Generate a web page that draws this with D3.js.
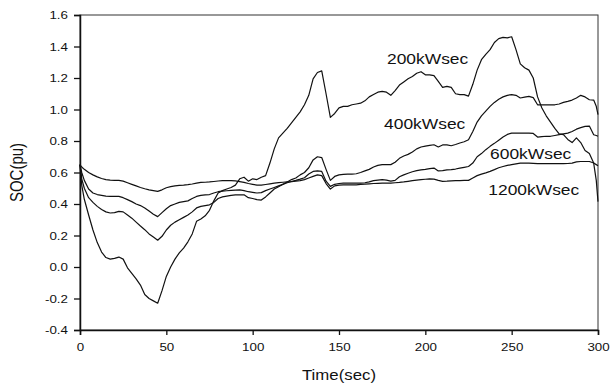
<!DOCTYPE html>
<html>
<head>
<meta charset="utf-8">
<script src="https://cdn.jsdelivr.net/npm/d3@7"></script>
<style>
  html, body { margin: 0; padding: 0; background: #fff; }
  svg { display: block; }
  text { font-family: Arial, "Liberation Sans", Helvetica, sans-serif; fill: #111; }
</style>
</head>
<body>
<svg id="chart" width="611" height="385"></svg>
<script>
// Sampling instants (s)
const time = [0, 1, 2.5, 5, 7.5, 10, 12.5, 15, 17.5, 20, 22.5, 25, 27.5, 30, 32.5, 35, 37.5, 40, 42.5, 45,
  47.5, 50, 52.5, 55, 57.5, 60, 62.5, 65, 67.5, 70, 72.5, 75, 77.5, 80, 82.5, 85, 87.5, 90, 92.5, 95,
  97.5, 100, 102.5, 105, 107.5, 110, 112.5, 115, 117.5, 120, 122.5, 125, 127.5, 130, 132.5, 135, 137.5, 140, 142.5, 145,
  147.5, 150, 152.5, 155, 157.5, 160, 162.5, 165, 167.5, 170, 172.5, 175, 177.5, 180, 182.5, 185, 187.5, 190, 192.5, 195,
  197.5, 200, 202.5, 205, 207.5, 210, 212.5, 215, 217.5, 220, 222.5, 225, 227.5, 230, 232.5, 235, 237.5, 240, 242.5, 245,
  247.5, 250, 252.5, 255, 257.5, 260, 262.5, 265, 267.5, 270, 272.5, 275, 277.5, 280, 282.5, 285, 287.5, 290, 292.5, 295,
  297.5, 299, 300];

// State of charge (pu) for each storage capacity
const soc200 = [0.65, 0.52, 0.43, 0.33, 0.235, 0.155, 0.095, 0.06, 0.05, 0.055, 0.063, 0.05, -0.005, -0.04, -0.075, -0.115, -0.175, -0.2, -0.215, -0.23,
  -0.15, -0.06, 0.0, 0.05, 0.09, 0.12, 0.16, 0.21, 0.29, 0.305, 0.325, 0.36, 0.42, 0.47, 0.485, 0.495, 0.505, 0.52, 0.56, 0.57,
  0.545, 0.56, 0.555, 0.57, 0.58, 0.66, 0.75, 0.82, 0.85, 0.88, 0.915, 0.95, 0.985, 1.03, 1.09, 1.195, 1.235, 1.245, 1.10, 0.95,
  0.975, 1.01, 1.02, 1.02, 1.03, 1.035, 1.04, 1.055, 1.08, 1.095, 1.11, 1.115, 1.11, 1.09, 1.12, 1.155, 1.175, 1.195, 1.21, 1.23,
  1.24, 1.22, 1.22, 1.215, 1.178, 1.14, 1.147, 1.14, 1.10, 1.094, 1.094, 1.085, 1.16, 1.25, 1.316, 1.35, 1.38, 1.425, 1.45, 1.458,
  1.455, 1.462, 1.38, 1.29, 1.265, 1.25, 1.2, 1.08, 1.01, 0.96, 0.92, 0.88, 0.845, 0.84, 0.81, 0.79, 0.82, 0.79, 0.74, 0.72,
  0.66, 0.55, 0.415];

const soc400 = [0.65, 0.56, 0.50, 0.44, 0.41, 0.385, 0.365, 0.35, 0.343, 0.345, 0.353, 0.35, 0.33, 0.31, 0.285, 0.26, 0.237, 0.21, 0.19, 0.17,
  0.195, 0.235, 0.265, 0.285, 0.30, 0.315, 0.33, 0.35, 0.375, 0.385, 0.39, 0.395, 0.41, 0.435, 0.445, 0.45, 0.455, 0.458, 0.458, 0.458,
  0.44, 0.435, 0.428, 0.425, 0.445, 0.47, 0.495, 0.51, 0.525, 0.54, 0.555, 0.565, 0.585, 0.60, 0.63, 0.68, 0.70, 0.695, 0.62, 0.55,
  0.575, 0.585, 0.588, 0.59, 0.59, 0.592, 0.60, 0.61, 0.62, 0.635, 0.645, 0.65, 0.65, 0.65, 0.665, 0.69, 0.705, 0.715, 0.73, 0.75,
  0.762, 0.768, 0.772, 0.776, 0.762, 0.775, 0.775, 0.77, 0.778, 0.787, 0.795, 0.808, 0.86, 0.92, 0.96, 0.99, 1.02, 1.045, 1.065, 1.08,
  1.09, 1.095, 1.09, 1.073, 1.078, 1.083, 1.075, 1.03, 1.03, 1.03, 1.03, 1.03, 1.035, 1.045, 1.052, 1.06, 1.073, 1.09, 1.08, 1.062,
  1.06, 1.02, 0.967];

const soc600 = [0.65, 0.6, 0.55, 0.495, 0.47, 0.46, 0.455, 0.45, 0.448, 0.448, 0.448, 0.44, 0.428, 0.415, 0.40, 0.39, 0.375, 0.355, 0.335, 0.32,
  0.345, 0.37, 0.39, 0.40, 0.41, 0.415, 0.42, 0.435, 0.448, 0.455, 0.458, 0.46, 0.47, 0.478, 0.482, 0.484, 0.486, 0.488, 0.49, 0.485,
  0.478, 0.474, 0.47, 0.472, 0.485, 0.495, 0.505, 0.515, 0.525, 0.535, 0.543, 0.55, 0.558, 0.567, 0.59, 0.607, 0.61, 0.607, 0.545, 0.512,
  0.525, 0.53, 0.533, 0.533, 0.533, 0.533, 0.533, 0.535, 0.54, 0.548, 0.552, 0.555, 0.552, 0.545, 0.55, 0.573, 0.585, 0.595, 0.605, 0.612,
  0.617, 0.62, 0.625, 0.628, 0.61, 0.612, 0.617, 0.618, 0.622, 0.628, 0.633, 0.638, 0.66, 0.70, 0.72, 0.745, 0.766, 0.785, 0.805, 0.825,
  0.842, 0.85, 0.85, 0.85, 0.85, 0.85, 0.848, 0.825, 0.828, 0.83, 0.83, 0.835, 0.84, 0.845, 0.85, 0.86, 0.875, 0.885, 0.893, 0.895,
  0.84, 0.835, 0.83];

const soc1200 = [0.65, 0.635, 0.62, 0.60, 0.585, 0.572, 0.562, 0.555, 0.552, 0.55, 0.55, 0.545, 0.535, 0.525, 0.515, 0.505, 0.497, 0.49, 0.485, 0.48,
  0.49, 0.503, 0.51, 0.515, 0.518, 0.52, 0.523, 0.527, 0.533, 0.537, 0.538, 0.54, 0.543, 0.546, 0.548, 0.548, 0.548, 0.547, 0.542, 0.537,
  0.53, 0.525, 0.52, 0.52, 0.524, 0.528, 0.532, 0.536, 0.538, 0.54, 0.542, 0.545, 0.548, 0.555, 0.565, 0.575, 0.585, 0.58, 0.53, 0.495,
  0.515, 0.52, 0.522, 0.522, 0.522, 0.522, 0.524, 0.526, 0.528, 0.53, 0.531, 0.532, 0.533, 0.533, 0.535, 0.537, 0.54, 0.544, 0.548, 0.552,
  0.555, 0.557, 0.559, 0.558, 0.55, 0.544, 0.545, 0.547, 0.548, 0.549, 0.55, 0.55, 0.565, 0.58, 0.59, 0.598, 0.607, 0.618, 0.63, 0.638,
  0.645, 0.65, 0.655, 0.66, 0.66, 0.66, 0.658, 0.656, 0.656, 0.656, 0.656, 0.656, 0.656, 0.656, 0.657, 0.66, 0.667, 0.67, 0.67, 0.67,
  0.66, 0.65, 0.643];

const seriesNames = ["200kWsec", "400kWsec", "600kWsec", "1200kWsec"];
const seriesValues = [soc200, soc400, soc600, soc1200];

// Label anchor points (time, SOC) for the inline curve names
const labelTime = [177.8, 176.1, 237.5, 236.5];
const labelSoc = [1.288, 0.874, 0.685, 0.457];

const xTicks = [0, 50, 100, 150, 200, 250, 300];
const yTicks = [-0.4, -0.2, 0.0, 0.2, 0.4, 0.6, 0.8, 1.0, 1.2, 1.4, 1.6];

const svg = d3.select("#chart");
const W = 611, H = 385;
const margin = { left: 80, top: 15, right: 13, bottom: 55 };

const x = d3.scaleLinear().domain([0, 300]).range([margin.left, W - margin.right]);
const y = d3.scaleLinear().domain([-0.4, 1.6]).range([H - margin.bottom, margin.top]);

// Widen horizontal text slightly, the way the original figure's lettering runs
const widen = (sel, k) => sel.each(function () {
  const len = this.getComputedTextLength();
  d3.select(this).attr("textLength", len * k).attr("lengthAdjust", "spacingAndGlyphs");
});

// Plot frame
svg.append("rect")
  .attr("x", x(0)).attr("y", y(1.6))
  .attr("width", x(300) - x(0)).attr("height", y(-0.4) - y(1.6))
  .attr("fill", "none").attr("stroke", "#333").attr("stroke-width", 1);

// Curves
const line = d3.line()
  .x((d, i) => x(time[i]))
  .y(d => y(d));

svg.append("g")
  .selectAll("path")
  .data(seriesValues)
  .join("path")
  .attr("d", d => line(d))
  .attr("fill", "none")
  .attr("stroke", "#111")
  .attr("stroke-width", 1.2)
  .attr("stroke-linejoin", "round");

// Axes
const xAxis = svg.append("g")
  .attr("transform", `translate(0,${y(-0.4)})`)
  .call(d3.axisBottom(x).tickValues(xTicks).tickSize(5).tickPadding(8).tickFormat(d => String(d)));

const yAxis = svg.append("g")
  .attr("transform", `translate(${x(0)},0)`)
  .call(d3.axisLeft(y).tickValues(yTicks).tickSize(6).tickPadding(6).tickFormat(d => d.toFixed(1)));

[xAxis, yAxis].forEach(g => {
  g.select(".domain").attr("stroke", "#111").attr("stroke-width", 1.5);
  g.selectAll(".tick line").attr("stroke", "#111").attr("stroke-width", 1.3);
  g.selectAll(".tick text")
    .attr("fill", "#111")
    .style("font-size", "11.5px")
    .style("font-family", "Arial, 'Liberation Sans', sans-serif");
});
widen(xAxis.selectAll(".tick text"), 1.16);
widen(yAxis.selectAll(".tick text"), 1.16);

// Axis titles
const xTitle = svg.append("text")
  .attr("x", (x(0) + x(300)) / 2)
  .attr("y", 380)
  .attr("text-anchor", "middle")
  .style("font-size", "15px")
  .text("Time(sec)");
widen(xTitle, 1.12);

svg.append("text")
  .attr("transform", `translate(23,${(y(1.6) + y(-0.4)) / 2}) scale(1.17,1) rotate(-90)`)
  .attr("text-anchor", "middle")
  .style("font-size", "15px")
  .text("SOC(pu)");

// Curve names
const labels = svg.append("g")
  .selectAll("text")
  .data(seriesNames)
  .join("text")
  .attr("x", (d, i) => x(labelTime[i]))
  .attr("y", (d, i) => y(labelSoc[i]))
  .style("font-size", "15px")
  .text(d => d);
widen(labels, 1.16);
</script>
</body>
</html>
